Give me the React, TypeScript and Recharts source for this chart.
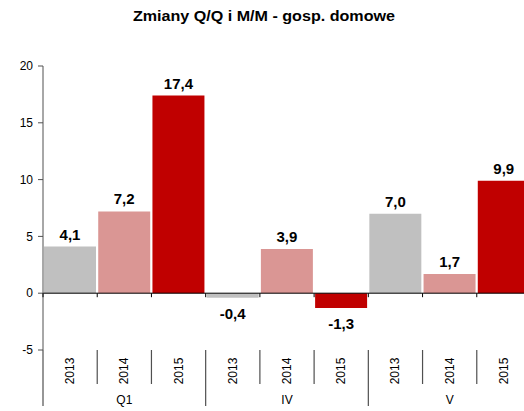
import React from "react";
import { ComposedChart, Bar, Cell, XAxis, YAxis, ReferenceLine, LabelList } from "recharts";

const years = ["2013", "2014", "2015", "2013", "2014", "2015", "2013", "2014", "2015"];
const groups = ["Q1", "IV", "V"];
const values = [4.1, 7.2, 17.4, -0.4, 3.9, -1.3, 7.0, 1.7, 9.9];
const yTicks = [-5, 0, 5, 10, 15, 20];

const COLORS = ["#C0C0C0", "#DA9694", "#C00000"];
const FONT = "'Liberation Sans', Arial, sans-serif";

// layout (axis space is added on top of the margins)
const W = 540;
const H = 411;
const X_H = 61;
const Y_W = 43;
const M = { top: 66, right: 9, left: 0, bottom: 0 };
const PLOT_H = H - M.top - M.bottom - X_H;
const BW = (W - M.left - M.right - Y_W) / years.length;
const ZERO_Y = M.top + (20 / 25) * PLOT_H;

const data = values.map((v, i) => ({
    year: years[i],
    group: groups[Math.floor(i / 3)],
    value: v,
}));

const fmt = (v: number) => v.toFixed(1).replace(".", ",");

function YearTick(props: any) {
    const { x, y, payload, index } = props;
    const bx = x - BW / 2;
    const groupStart = index % 3 === 0;
    const last = index === years.length - 1;
    return (
        <g>
            <line x1={bx} y1={y} x2={bx} y2={y + (groupStart ? 56 : 34)} stroke="#505050" strokeWidth={1.2} />
            <line x1={bx} y1={ZERO_Y} x2={bx} y2={ZERO_Y + 4} stroke="#000" />
            {last && <line x1={x + BW / 2} y1={y} x2={x + BW / 2} y2={y + 56} stroke="#505050" />}
            <text
                x={x}
                y={y + 21}
                transform={`rotate(-90, ${x}, ${y + 21})`}
                textAnchor="middle"
                dominantBaseline="central"
                fontSize={12}
                fontFamily={FONT}
                fill="#000"
            >
                {payload.value}
            </text>
            {index % 3 === 1 && (
                <text x={x} y={y + 54} textAnchor="middle" fontSize={12} fontFamily={FONT} fill="#000">
                    {groups[Math.floor(index / 3)]}
                </text>
            )}
        </g>
    );
}

function ValueLabel(props: any) {
    const { x, y, width, height, value } = props;
    const top = Math.min(y, y + height);
    const bottom = Math.max(y, y + height);
    const ty = value < 0 ? bottom + 21 : top - 7;
    return (
        <text x={x + width / 2} y={ty} textAnchor="middle" fontSize={15} fontWeight="bold" fontFamily={FONT} fill="#000">
            {fmt(value)}
        </text>
    );
}

export default function App() {
    return (
        <div
            style={{
                position: "fixed",
                left: 0,
                top: 0,
                width: 524,
                height: 411,
                overflow: "hidden",
                background: "#fff",
            }}
        >
            <div
                style={{
                    position: "absolute",
                    top: 8,
                    left: 0,
                    width: 528,
                    textAlign: "center",
                    fontFamily: FONT,
                    fontSize: 14,
                    fontWeight: "bold",
                    color: "#000",
                }}
            >
                <span style={{ display: "inline-block", transform: "scaleX(1.15)" }}>Zmiany Q/Q i M/M - gosp. domowe</span>
            </div>
            <ComposedChart width={W} height={H} data={data} margin={M} barCategoryGap={1}>
                <XAxis
                    dataKey="year"
                    interval={0}
                    axisLine={false}
                    tickLine={false}
                    tickSize={0}
                    tickMargin={0}
                    height={X_H}
                    tick={<YearTick />}
                />
                <YAxis
                    domain={[-5, 20]}
                    ticks={yTicks}
                    width={Y_W}
                    interval={0}
                    axisLine={{ stroke: "#505050" }}
                    tickLine={{ stroke: "#505050" }}
                    tickSize={5}
                    tickMargin={5}
                    tick={{ fontSize: 12, fontFamily: FONT, fill: "#000" }}
                />
                <ReferenceLine y={0} stroke="#000" />
                <Bar dataKey="value" isAnimationActive={false}>
                    {data.map((_, i) => (
                        <Cell key={`c-${i}`} fill={COLORS[i % 3]} />
                    ))}
                    <LabelList dataKey="value" content={<ValueLabel />} />
                </Bar>
            </ComposedChart>
        </div>
    );
}
